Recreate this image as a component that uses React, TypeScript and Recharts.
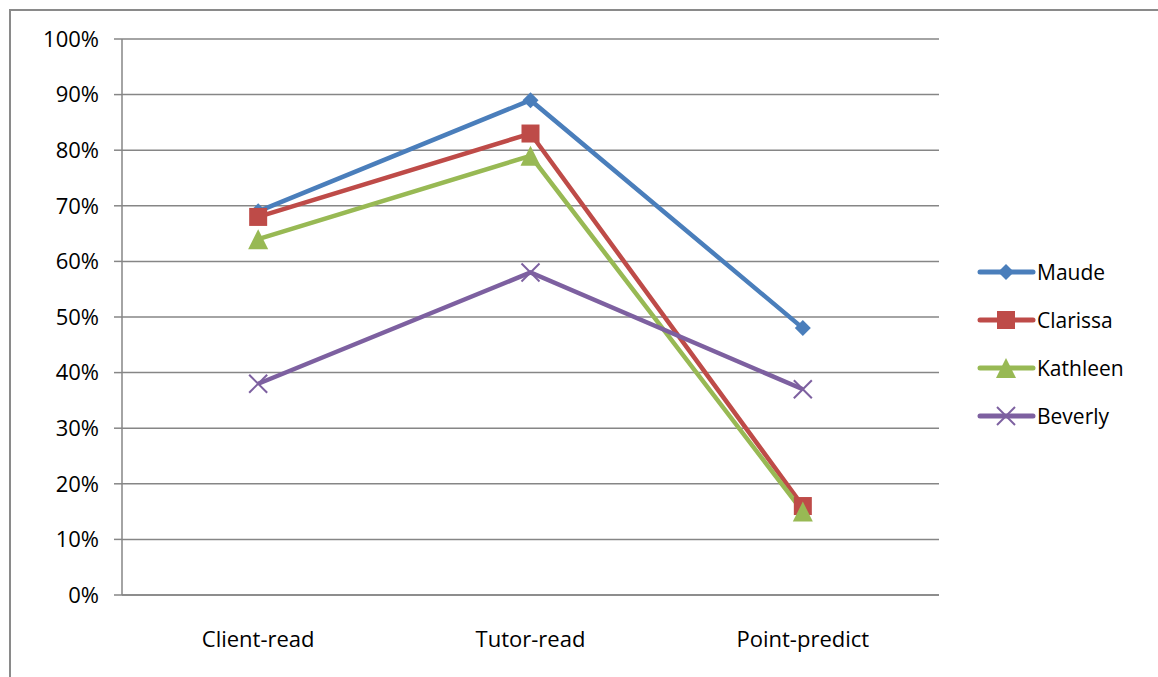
import React from "react";
import { LineChart, Line, XAxis, YAxis, CartesianGrid } from "recharts";

const categories = ["Client-read", "Tutor-read", "Point-predict"];
const maude = [0.69, 0.89, 0.48];
const clarissa = [0.68, 0.83, 0.16];
const kathleen = [0.64, 0.79, 0.15];
const beverly = [0.38, 0.58, 0.37];
const yTicks = [0, 0.1, 0.2, 0.3, 0.4, 0.5, 0.6, 0.7, 0.8, 0.9, 1.0];
const boundaryTicks = [0, 1, 2, 3];
const seriesNames = ["Maude", "Clarissa", "Kathleen", "Beverly"];

const data = categories.map((c, i) => ({
  name: c,
  Maude: maude[i],
  Clarissa: clarissa[i],
  Kathleen: kathleen[i],
  Beverly: beverly[i],
}));

const COLORS: Record<string, string> = {
  Maude: "#4A7EBB",
  Clarissa: "#BE4B48",
  Kathleen: "#98B954",
  Beverly: "#7D60A0",
};

const FONT = "Open Sans, sans-serif";
const GRAY = "#868686";

function Marker({ kind, cx, cy, color }: { kind: string; cx: number; cy: number; color: string }) {
  if (cx == null || cy == null) return null;
  if (kind === "Maude") {
    const r = 8;
    return <polygon points={`${cx},${cy - r} ${cx + r},${cy} ${cx},${cy + r} ${cx - r},${cy}`} fill={color} />;
  }
  if (kind === "Clarissa") {
    const h = 9;
    return <rect x={cx - h} y={cy - h} width={2 * h} height={2 * h} fill={color} />;
  }
  if (kind === "Kathleen") {
    const h = 10;
    return <polygon points={`${cx},${cy - h} ${cx + h},${cy + h} ${cx - h},${cy + h}`} fill={color} />;
  }
  const h = 9;
  return (
    <g stroke={color} strokeWidth={2}>
      <line x1={cx - h} y1={cy - h} x2={cx + h} y2={cy + h} />
      <line x1={cx - h} y1={cy + h} x2={cx + h} y2={cy - h} />
    </g>
  );
}

const makeDot = (kind: string) => (props: any) => (
  <Marker key={`${kind}-${props.index}`} kind={kind} cx={props.cx} cy={props.cy} color={COLORS[kind]} />
);

const LegendBox = () => (
  <div style={{ position: "absolute", left: 976, top: 248, fontFamily: FONT, fontSize: 21, color: "#000" }}>
    {seriesNames.map((k) => (
      <div key={k} style={{ display: "flex", alignItems: "center", height: 48 }}>
        <svg width={60} height={24} style={{ marginRight: 1 }}>
          <line x1={4} y1={12} x2={57} y2={12} stroke={COLORS[k]} strokeWidth={5} strokeLinecap="round" />
          <Marker kind={k} cx={30} cy={12} color={COLORS[k]} />
        </svg>
        <span>{k}</span>
      </div>
    ))}
  </div>
);

export default function App() {
  return (
    <div style={{ position: "absolute", left: 0, top: 0, width: 1158, height: 677, background: "#fff", overflow: "hidden" }}>
      <div
        style={{
          position: "absolute",
          left: 9,
          top: 9,
          width: 1170,
          height: 700,
          border: `2px solid #8a8a8a`,
          boxSizing: "border-box",
        }}
      />
      <div style={{ position: "absolute", left: 0, top: 0 }}>
        <LineChart
          width={1158}
          height={677}
          data={data}
          margin={{ top: 39, right: 219, bottom: 22, left: 42 }}
        >
          <CartesianGrid vertical={false} stroke={GRAY} strokeWidth={1.5} />
          <XAxis
            xAxisId="bounds"
            type="number"
            domain={[0, 3]}
            ticks={boundaryTicks}
            height={0}
            axisLine={false}
            tick={false}
            tickLine={{ stroke: GRAY, strokeWidth: 1.5 }}
            tickSize={8}
          />
          <XAxis
            dataKey="name"
            scale="band"
            height={60}
            axisLine={{ stroke: GRAY, strokeWidth: 1.5 }}
            tickLine={false}
            tickMargin={30}
            tick={{ fontFamily: FONT, fontSize: 22, fill: "#000" }}
            interval={0}
          />
          <YAxis
            domain={[0, 1]}
            ticks={yTicks}
            width={80}
            interval={0}
            tickFormatter={(v: number) => `${Math.round(v * 100)}%`}
            axisLine={{ stroke: GRAY, strokeWidth: 1.5 }}
            tickLine={{ stroke: GRAY, strokeWidth: 1.5 }}
            tickSize={8}
            tickMargin={15}
            tick={{ fontFamily: FONT, fontSize: 22, fill: "#000" }}
          />
          {seriesNames.map((k) => (
            <Line
              key={k}
              type="linear"
              dataKey={k}
              stroke={COLORS[k]}
              strokeWidth={4.5}
              dot={makeDot(k)}
              activeDot={false}
              isAnimationActive={false}
            />
          ))}
        </LineChart>
      </div>
      <LegendBox />
    </div>
  );
}
